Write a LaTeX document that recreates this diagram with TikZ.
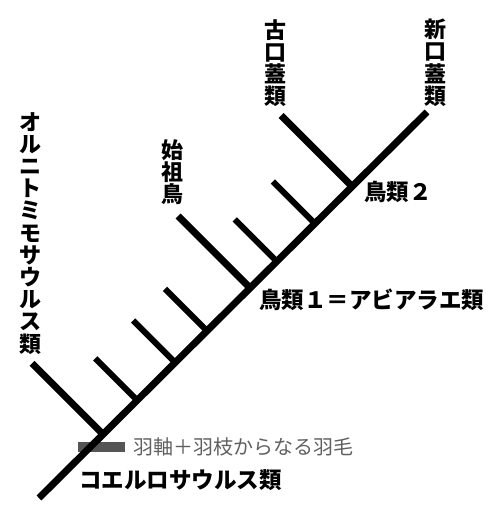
\documentclass[tikz,border=0pt]{standalone}
\usepackage{fontspec}
\setmainfont{Noto Sans CJK JP}
\usetikzlibrary{calc}
\definecolor{bargray}{HTML}{555555}
\definecolor{textgray}{HTML}{606060}
\begin{document}
\begin{tikzpicture}[x=1pt,y=-1pt,
  trunkline/.style={line width=7pt},
  longbr/.style={line width=7pt},
  shortbr/.style={line width=6pt},
  vlab/.style={font=\fontsize{22}{22.2}\selectfont\bfseries, align=center, inner sep=0pt, anchor=north},
  hlab/.style={font=\fontsize{22.5}{24}\selectfont\bfseries, inner sep=0pt, anchor=west},
  glab/.style={font=\fontsize{20}{22}\selectfont, text=textgray, inner sep=0pt, anchor=west},
]
\useasboundingbox (0,0) rectangle (491,505);

% trunk end points
\coordinate (root) at (39,498);
\coordinate (neo) at (427,112);

% junctions on the trunk
\coordinate (j1) at ($(root)!0.165!(neo)$);
\coordinate (j2) at ($(root)!0.253!(neo)$);
\coordinate (j3) at ($(root)!0.351!(neo)$);
\coordinate (j4) at ($(root)!0.433!(neo)$);
\coordinate (j5) at ($(root)!0.544!(neo)$);
\coordinate (j6) at ($(root)!0.613!(neo)$);
\coordinate (j7) at ($(root)!0.711!(neo)$);
\coordinate (j8) at ($(root)!0.807!(neo)$);

% branch tips
\coordinate (t1) at ($(j1)+(-71,-71)$);
\coordinate (t2) at ($(j2)+(-42,-42)$);
\coordinate (t3) at ($(j3)+(-42,-42)$);
\coordinate (t4) at ($(j4)+(-42,-42)$);
\coordinate (t5) at ($(j5)+(-72,-72)$);
\coordinate (t6) at ($(j6)+(-42,-42)$);
\coordinate (t7) at ($(j7)+(-42,-42)$);
\coordinate (t8) at ($(j8)+(-71,-71)$);

% feather bar (behind the trunk)
\node[fill=bargray, minimum width=47pt, minimum height=10pt, inner sep=0pt] (bar) at (101.5,447) {};
\node[glab] (feather) at (133,447) {羽軸＋羽枝からなる羽毛};

% trunk and branches
\draw[trunkline] (root) -- (neo);
\draw[longbr] (t1) -- (j1);
\draw[shortbr] (t2) -- (j2);
\draw[shortbr] (t3) -- (j3);
\draw[shortbr] (t4) -- (j4);
\draw[longbr] (t5) -- (j5);
\draw[shortbr] (t6) -- (j6);
\draw[shortbr] (t7) -- (j7);
\draw[longbr] (t8) -- (j8);

% vertical labels
\node[vlab] (ornitho) at (30,112) {オ\\ル\\ニ\\ト\\ミ\\モ\\サ\\ウ\\ル\\ス\\類};
\node[vlab] (archae) at (172,139) {始\\祖\\鳥};
\node[vlab] (enantio) at (275,19) {古\\口\\蓋\\類};
\node[vlab] (neorn) at (435,19) {新\\口\\蓋\\類};

% horizontal labels
\node[hlab] (aves2) at (364,192) {鳥類２};
\node[hlab] (aves1) at (259,300) {鳥類１＝アビアラエ類};
\node[hlab] (coel) at (79,480) {コエルロサウルス類};
\end{tikzpicture}
\end{document}
